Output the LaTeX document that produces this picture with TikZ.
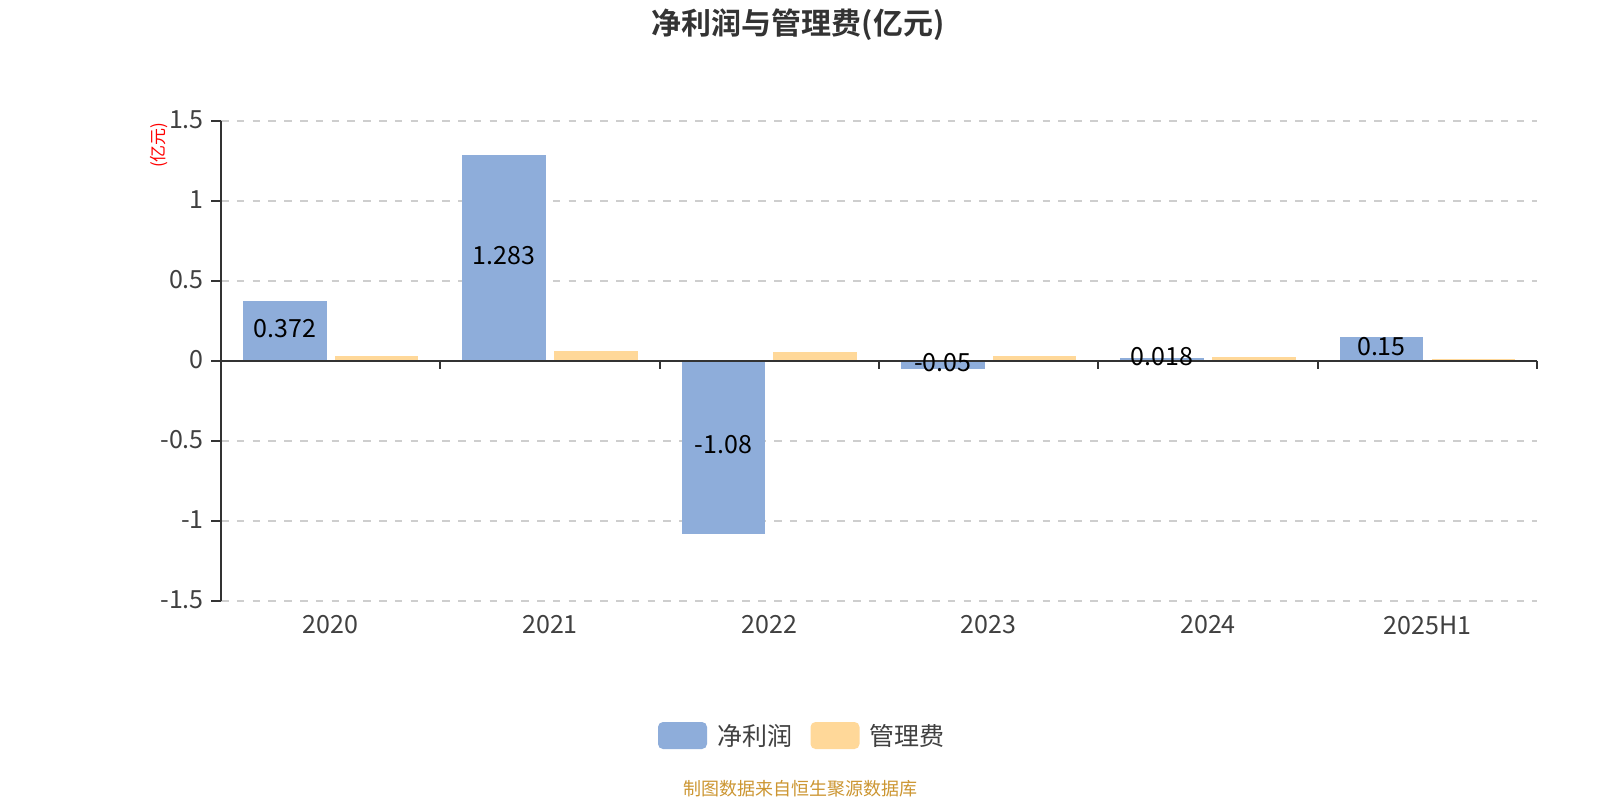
\documentclass[tikz,border=0pt]{standalone}
\usepackage{fontspec}
\setmainfont{Noto Sans CJK SC}[BoldFont={Noto Sans CJK SC Bold}]
\definecolor{barblue}{RGB}{142,173,218}
\definecolor{baryel}{RGB}{255,216,153}
\definecolor{axisc}{RGB}{51,51,51}
\definecolor{gridc}{RGB}{206,206,206}
\definecolor{txt}{RGB}{64,64,64}
\definecolor{titlec}{RGB}{51,51,51}
\definecolor{foot}{RGB}{204,150,50}
\begin{document}
\begin{tikzpicture}[x=1pt,y=-1pt,
  ticklab/.style={font=\fontsize{25}{29}\selectfont, text=txt, inner sep=0pt},
  barlab/.style={font=\fontsize{25}{29}\selectfont, text=black, inner sep=0pt},
  gridline/.style={gridc, line width=1.6pt, dash pattern=on 7.5pt off 8.3pt},
  axisline/.style={axisc, line width=2pt},
  legbox/.style={rounded corners=5pt, minimum width=49pt, minimum height=27pt, inner sep=0pt, draw=none},
  legtext/.style={font=\fontsize{25}{29}\selectfont, text=txt, inner sep=0pt, anchor=west}]
\useasboundingbox (0,0) rectangle (1600,800);
\fill[white] (0,0) rectangle (1600,800);
% grid lines
\foreach \v in {1.5,1,0.5,-0.5,-1,-1.5}{
  \pgfmathsetmacro\gy{360.7-160*(\v)}
  \draw[gridline] (221,\gy) -- (1537,\gy);
}
% bars
\foreach \i/\yr/\a/\b in {0/2020/0.372/0.031, 1/2021/1.283/0.06, 2/2022/-1.08/0.054, 3/2023/-0.05/0.031, 4/2024/0.018/0.021, 5/2025H1/0.15/0.01}{
  \pgfmathsetmacro\cx{221+219.333*(\i+0.5)}
  \pgfmathsetmacro\bl{\cx-45.9-41.75}
  \pgfmathsetmacro\br{\cx-45.9+41.75}
  \pgfmathsetmacro\yl{\cx+45.9-41.75}
  \pgfmathsetmacro\yr{\cx+45.9+41.75}
  \pgfmathsetmacro\ta{360.7-160*(\a)}
  \pgfmathsetmacro\tb{360.7-160*(\b)}
  \fill[barblue] (\bl,360.7) rectangle (\br,\ta);
  \fill[baryel] (\yl,360.7) rectangle (\yr,\tb);
}
% axes
\draw[axisline] (221,120.7) -- (221,600.7);
\draw[axisline] (221,360.7) -- (1537,360.7);
\foreach \v in {1.5,1,0.5,0,-0.5,-1,-1.5}{
  \pgfmathsetmacro\gy{360.7-160*(\v)}
  \draw[axisline] (211,\gy) -- (221,\gy);
  \node[ticklab, anchor=east] (yt\v) at (204,\gy-1) {\v};
}
\foreach \k in {0,...,6}{
  \pgfmathsetmacro\tx{221+219.333*\k}
  \draw[axisline] (\tx,360.7) -- (\tx,368.7);
}
% labels
\foreach \i/\yr/\a in {0/2020/0.372, 1/2021/1.283, 2/2022/-1.08, 3/2023/-0.05, 4/2024/0.018, 5/2025H1/0.15}{
  \pgfmathsetmacro\cx{221+219.333*(\i+0.5)}
  \pgfmathsetmacro\bx{\cx-45.9}
  \pgfmathsetmacro\ly{358.5-80*(\a)}
  \node[barlab] (lab\i) at (\bx,\ly) {\a};
  \node[ticklab] (xl\i) at (\cx,625) {\yr};
}
% axis name
\node[rotate=90, text=red, font=\fontsize{17}{19}\selectfont, inner sep=0pt] (yname) at (159,145) {(亿元)};
% title
\node[font=\bfseries\fontsize{30}{35}\selectfont, text=titlec, inner sep=0pt] (title) at (798,25) {净利润与管理费(亿元)};
% legend
\node[legbox, fill=barblue] (lb1) at (682.5,735.5) {};
\node[legtext] (lt1) at (717,735.5) {净利润};
\node[legbox, fill=baryel] (lb2) at (835,735.5) {};
\node[legtext] (lt2) at (869,735.5) {管理费};
% footer
\node[text=foot, font=\fontsize{18}{22}\selectfont, inner sep=0pt] (src) at (800,789) {制图数据来自恒生聚源数据库};
\end{tikzpicture}
\end{document}
